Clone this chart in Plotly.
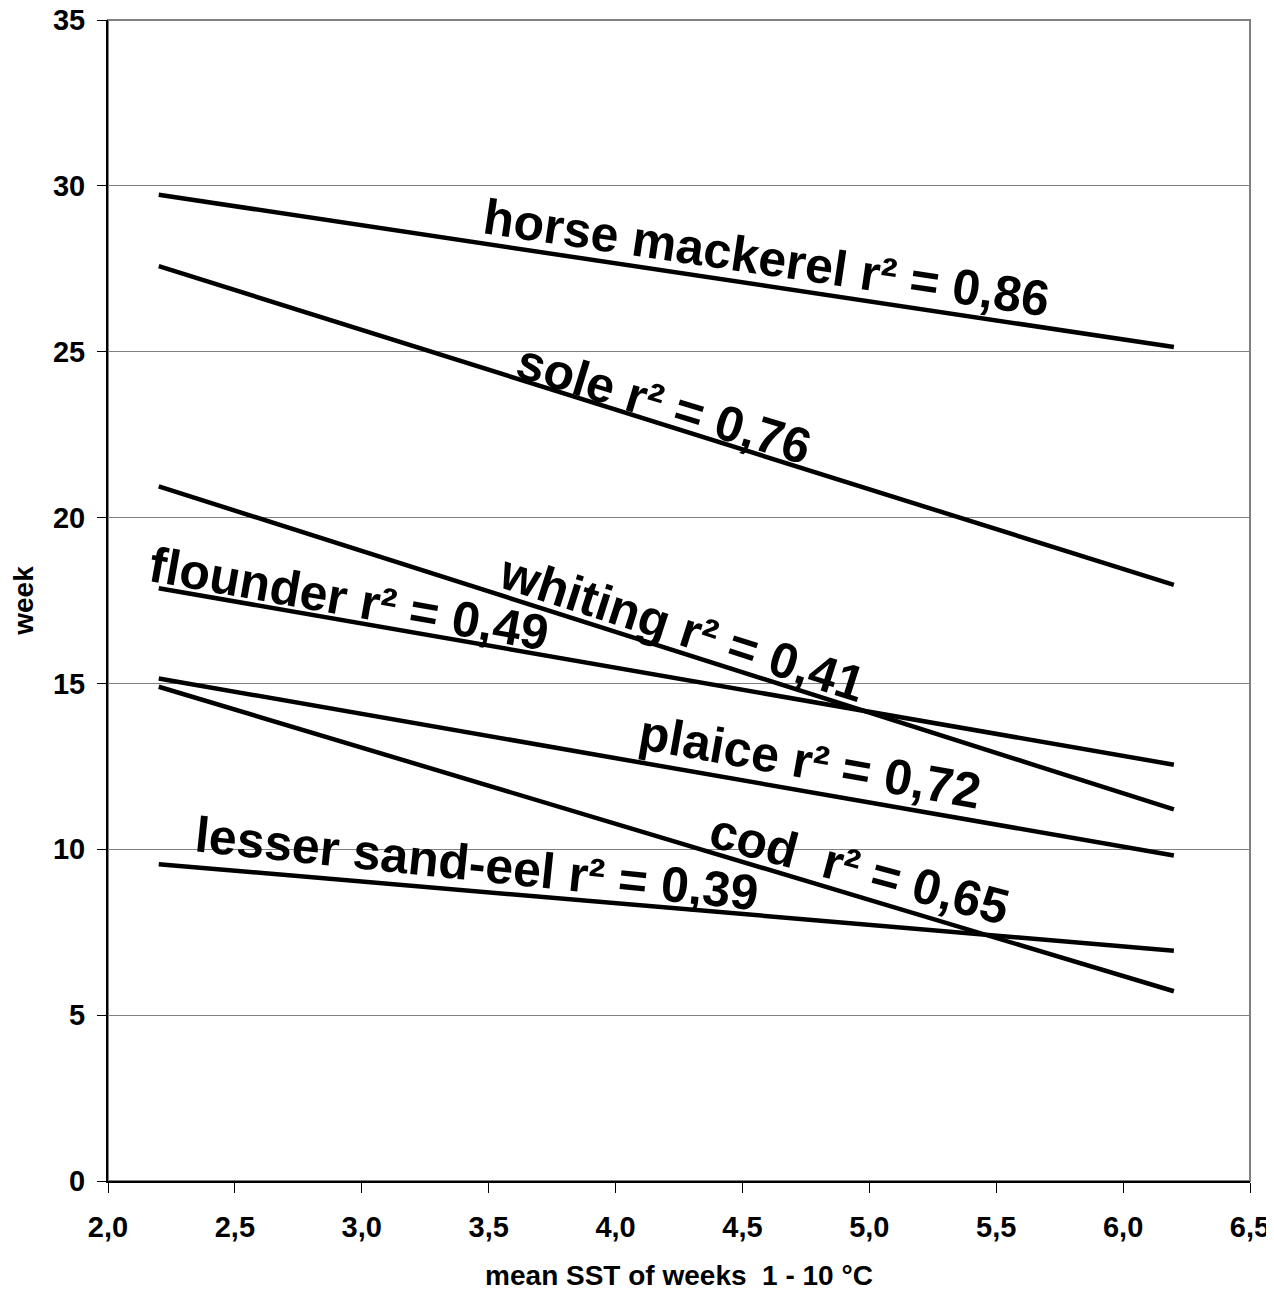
import plotly.graph_objects as go

# ---- data ----
species = ["horse mackerel", "sole", "whiting", "flounder", "plaice", "cod", "lesser sand-eel"]
r2_text = ["0,86", "0,76", "0,41", "0,49", "0,72", "0,65", "0,39"]
sst_range = [2.2, 6.2]                     # mean SST of weeks 1-10 (°C), line extent
week_at_low = [29.73, 27.58, 20.94, 17.87, 15.15, 14.90, 9.55]   # week at SST 2.2
week_at_high = [25.14, 17.97, 11.20, 12.55, 9.81, 5.72, 6.94]    # week at SST 6.2

x_ticks = [2.0, 2.5, 3.0, 3.5, 4.0, 4.5, 5.0, 5.5, 6.0, 6.5]
y_ticks = [0, 5, 10, 15, 20, 25, 30, 35]

# label placement (x, y, angle) – styling only
label_pos = {
    "horse mackerel": (4.595, 27.84, 8.4),
    "sole": (4.19, 23.43, 17.0),
    "whiting": (4.26, 16.66, 17.8),
    "flounder": (2.949, 17.55, 10.0),
    "plaice": (4.768, 12.63, 10.0),
    "cod": (4.96, 9.42, 15.0),
    "lesser sand-eel": (3.455, 9.55, 6.0),
}

FONT = "Liberation Sans, Arial, sans-serif"

fig = go.Figure()
for name, y0, y1 in zip(species, week_at_low, week_at_high):
    fig.add_trace(go.Scatter(
        x=sst_range, y=[y0, y1], mode="lines", name=name,
        line=dict(color="black", width=4.5), showlegend=False,
        hoverinfo="skip",
    ))

for name, r2 in zip(species, r2_text):
    sep = "\u00a0 " if name == "cod" else " "
    x, y, ang = label_pos[name]
    fig.add_annotation(
        x=x, y=y, xref="x", yref="y", text=f"{name}{sep}r² = {r2}",
        showarrow=False, textangle=ang,
        font=dict(family=FONT, size=50, color="black", weight="bold"),
    )

# plot-area border (gray)
fig.add_shape(type="rect", xref="paper", yref="paper", x0=0, y0=0, x1=1, y1=1,
              line=dict(color="#808080", width=2), layer="below")

fig.update_layout(
    width=1266, height=1283,
    margin=dict(l=100, r=24, t=12, b=110, autoexpand=False),
    paper_bgcolor="white", plot_bgcolor="white",
    separators=",.",
    font=dict(family=FONT, size=28, color="black", weight="bold"),
)
fig.update_xaxes(
    range=[2.0, 6.5], tickvals=x_ticks, tickformat=".1f",
    ticks="outside", ticklen=10, tickwidth=1, tickcolor="black",
    showline=True, linecolor="black", linewidth=2,
    showgrid=False, zeroline=False, automargin=False,
    ticklabelstandoff=9, ticklabeloverflow="allow",
    tickfont=dict(family=FONT, size=29, color="black", weight="bold"),
    title=dict(text="mean SST of weeks \u00a01 - 10 °C",
               font=dict(family=FONT, size=28, color="black", weight="bold"),
               standoff=25),
)
fig.update_yaxes(
    range=[0, 35], tickvals=y_ticks,
    ticks="outside", ticklen=9, tickwidth=1, tickcolor="black",
    showline=True, linecolor="black", linewidth=2,
    showgrid=True, gridcolor="#808080", gridwidth=1,
    zeroline=False, automargin=False,
    ticklabelstandoff=6, ticklabeloverflow="allow",
    tickfont=dict(family=FONT, size=29, color="black", weight="bold"),
    title=dict(text="week",
               font=dict(family=FONT, size=28, color="black", weight="bold"),
               standoff=16),
)

fig.write_html("out.html")
